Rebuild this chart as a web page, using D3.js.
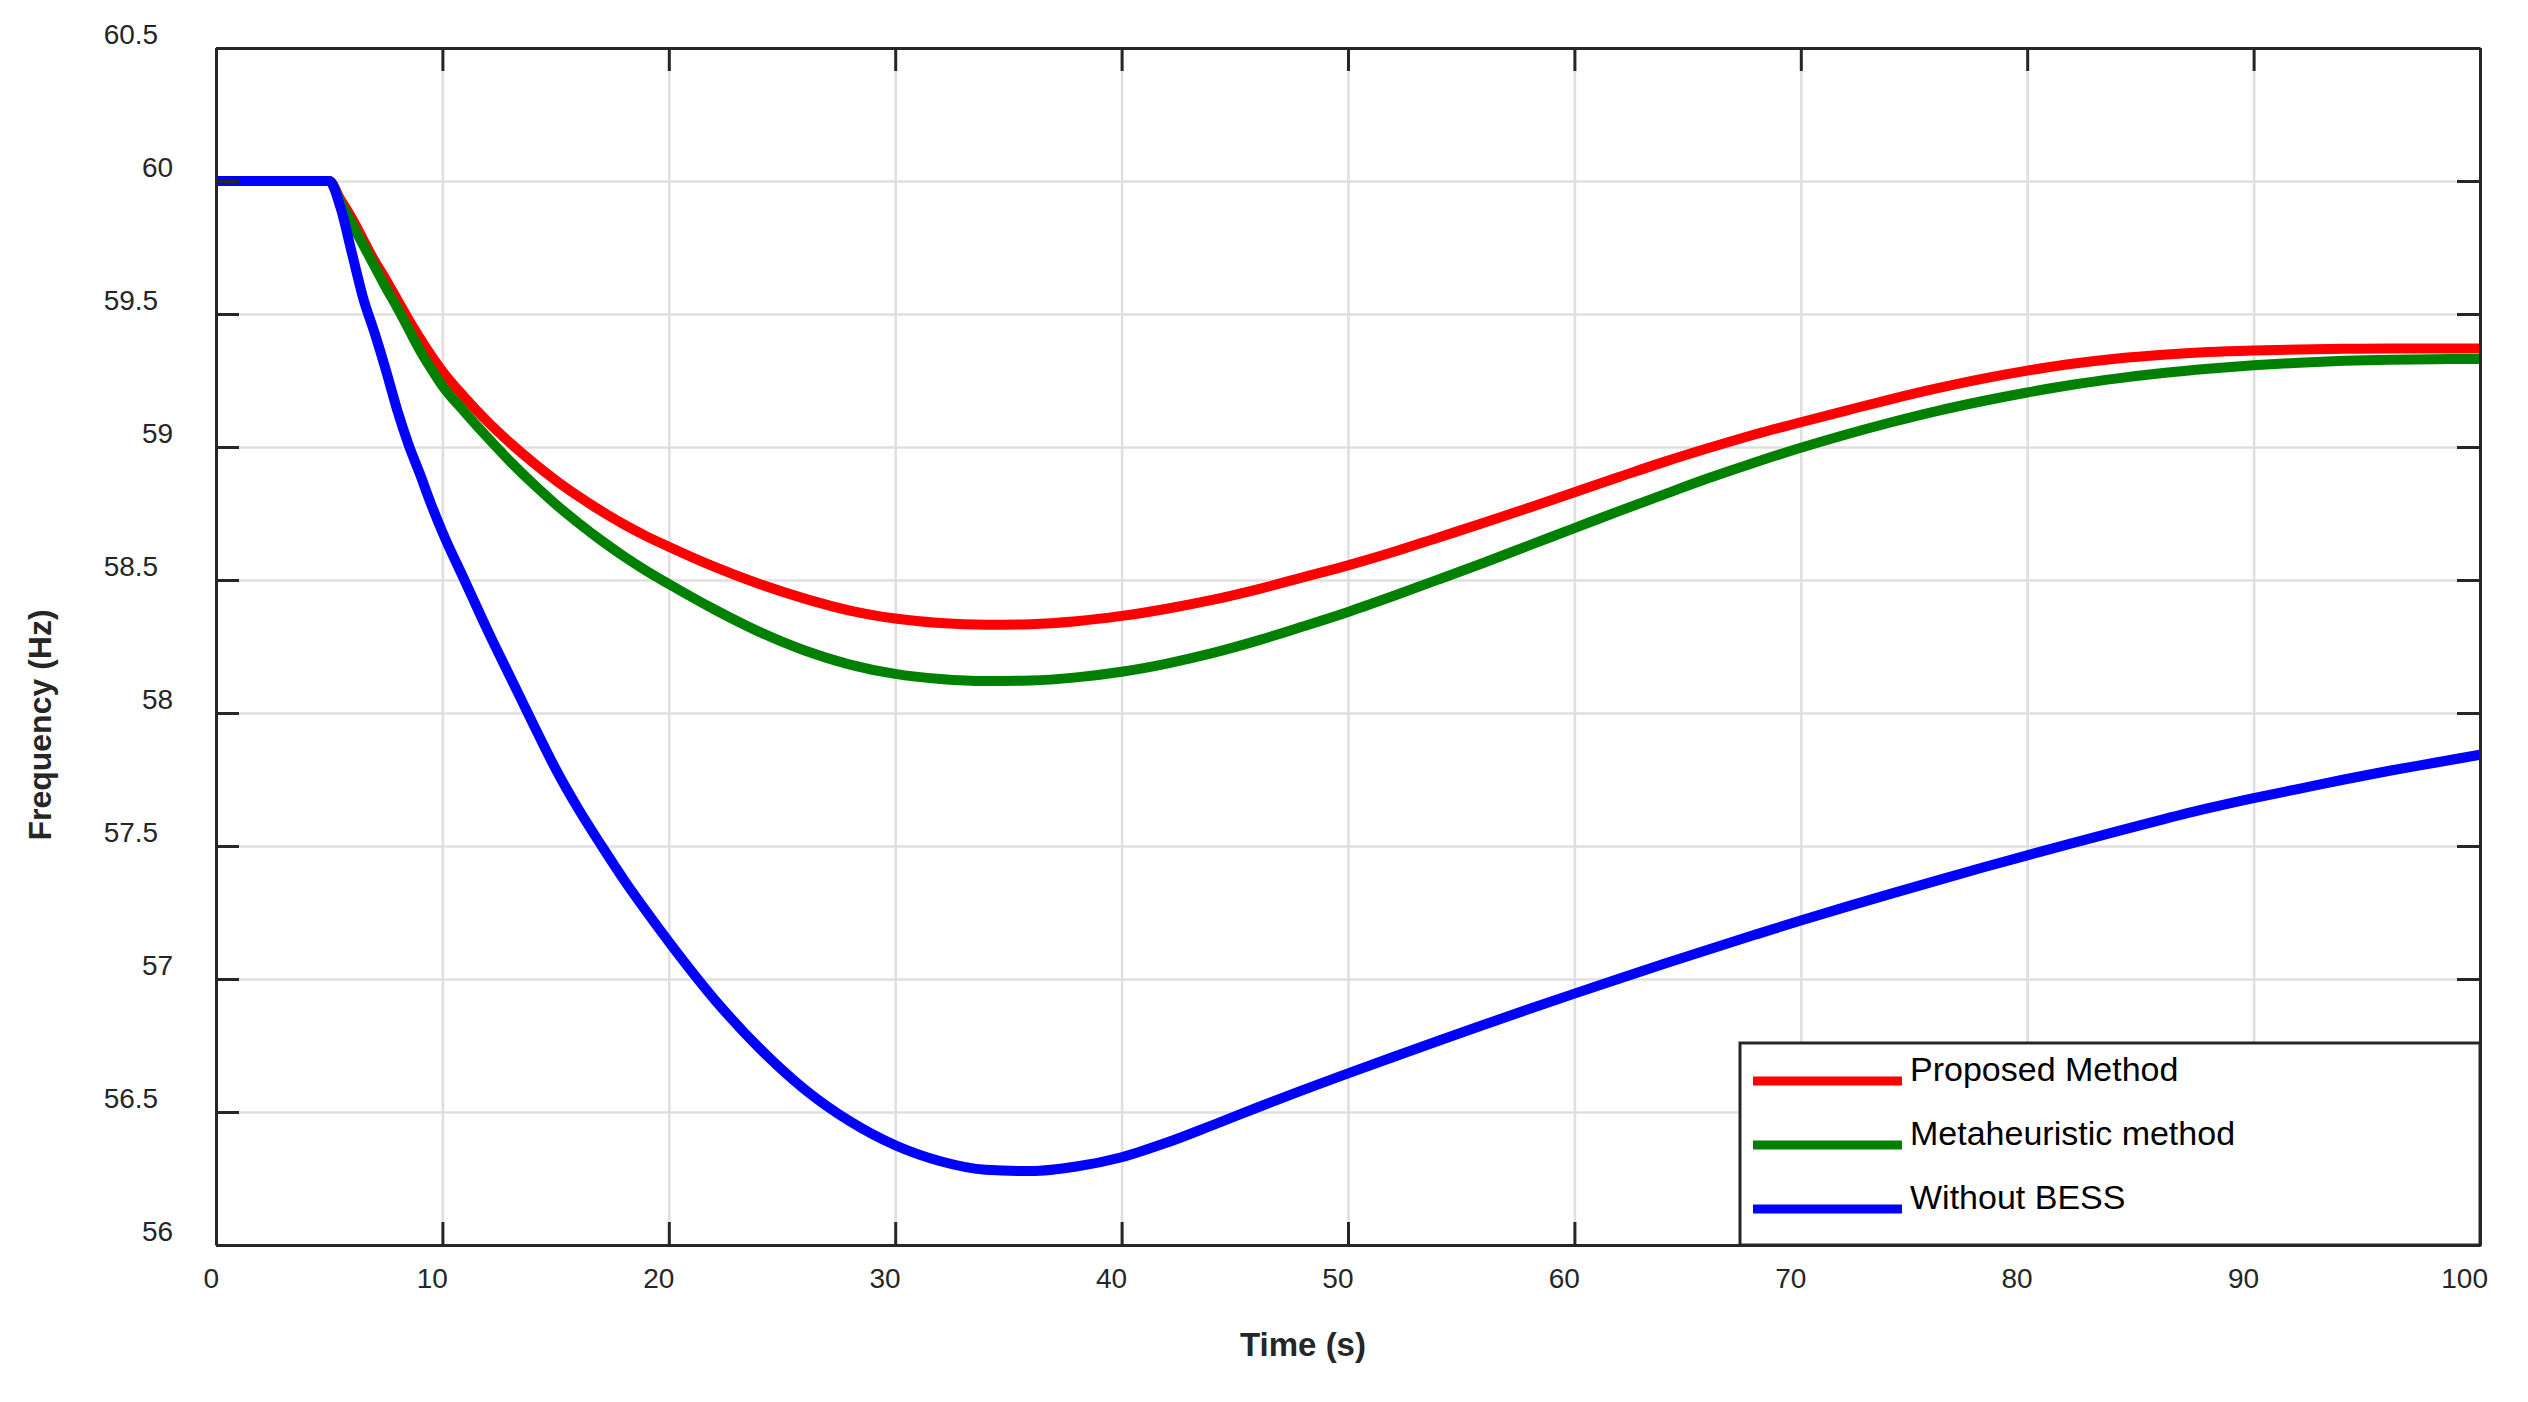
<!DOCTYPE html>
<html>
<head>
<meta charset="utf-8">
<script src="https://cdn.jsdelivr.net/npm/d3@7"></script>
<style>
    html, body { margin: 0; padding: 0; background: #fff; }
    svg { display: block; font-family: "Liberation Sans", Arial, Helvetica, sans-serif; }
</style>
</head>
<body>
<svg id="chart" width="2528" height="1402"></svg>
<script>
// time samples (s)
var time = [0, 5, 5.5, 6, 6.5, 7, 7.5, 8, 8.5, 9, 9.5, 10, 11, 12, 13, 14, 15, 16, 17, 18, 19, 20,
    22, 24, 26, 28, 30, 32, 34, 36, 38, 40, 42, 44, 46, 48, 50, 52, 54, 56, 58, 60,
    62, 64, 66, 68, 70, 72, 74, 76, 78, 80, 82, 84, 86, 88, 90, 92, 94, 96, 98, 100];

var proposed = [60, 60, 59.93, 59.86, 59.78, 59.70, 59.63, 59.555, 59.48, 59.41, 59.345, 59.285, 59.185, 59.095, 59.015, 58.942, 58.875, 58.815, 58.76, 58.71, 58.665, 58.625,
    58.55, 58.485, 58.43, 58.385, 58.355, 58.338, 58.332, 58.334, 58.345, 58.365, 58.392, 58.425, 58.465, 58.51, 58.555, 58.605, 58.66, 58.715, 58.772, 58.83,
    58.888, 58.945, 58.998, 59.048, 59.093, 59.137, 59.18, 59.22, 59.256, 59.287, 59.313, 59.333, 59.347, 59.357, 59.363, 59.367, 59.369, 59.37, 59.37, 59.37];

var metaheuristic = [60, 60, 59.92, 59.84, 59.76, 59.68, 59.60, 59.525, 59.445, 59.365, 59.295, 59.23, 59.13, 59.035, 58.945, 58.862, 58.785, 58.715, 58.65, 58.59, 58.535, 58.485,
    58.39, 58.305, 58.235, 58.182, 58.147, 58.128, 58.12, 58.122, 58.134, 58.155, 58.186, 58.225, 58.272, 58.325, 58.38, 58.44, 58.502, 58.565, 58.63, 58.695,
    58.76, 58.823, 58.885, 58.943, 58.997, 59.047, 59.093, 59.135, 59.172, 59.205, 59.234, 59.258, 59.278, 59.294, 59.307, 59.317, 59.324, 59.328, 59.33, 59.331];

var withoutBess = [60, 60, 59.90, 59.73, 59.56, 59.43, 59.29, 59.14, 59.01, 58.90, 58.785, 58.68, 58.495, 58.31, 58.135, 57.96, 57.79, 57.64, 57.505, 57.375, 57.255, 57.14,
    56.925, 56.74, 56.585, 56.465, 56.375, 56.315, 56.283, 56.278, 56.295, 56.33, 56.385, 56.45, 56.517, 56.582, 56.645, 56.707, 56.768, 56.828, 56.887, 56.945,
    57.002, 57.058, 57.113, 57.167, 57.22, 57.271, 57.321, 57.37, 57.418, 57.465, 57.511, 57.556, 57.6, 57.642, 57.68, 57.715, 57.75, 57.783, 57.813, 57.843];

var seriesNames = ['Proposed Method', 'Metaheuristic method', 'Without BESS'];
var seriesColors = ['#ff0000', '#008000', '#0000ff'];

var xTicks = [0, 10, 20, 30, 40, 50, 60, 70, 80, 90, 100];
var yTicks = [56, 56.5, 57, 57.5, 58, 58.5, 59, 59.5, 60, 60.5];

var axisColor = '#262626';
var plot = { left: 216, right: 2480, top: 48, bottom: 1245 };

var svg = d3.select('#chart');

var x = d3.scaleLinear().domain([0, 100]).range([plot.left, plot.right]);
var y = d3.scaleLinear().domain([56, 60.5]).range([plot.bottom, plot.top]);

// grid
var grid = svg.append('g').attr('class', 'grid');
grid.append('g')
    .attr('transform', 'translate(0,' + plot.bottom + ')')
    .call(d3.axisBottom(x).tickValues(xTicks).tickSize(-(plot.bottom - plot.top)).tickFormat(''));
grid.append('g')
    .attr('transform', 'translate(' + plot.left + ',0)')
    .call(d3.axisLeft(y).tickValues(yTicks).tickSize(-(plot.right - plot.left)).tickFormat(''));
grid.selectAll('.domain').remove();
grid.selectAll('line').attr('stroke', '#dfdfdf').attr('stroke-width', 2.6);

// series
var series = [proposed, metaheuristic, withoutBess];
var line = d3.line()
    .x(function(d, i) { return x(time[i]); })
    .y(function(d) { return y(d); })
    .curve(d3.curveMonotoneX);

svg.append('g').attr('class', 'lines')
    .selectAll('path')
    .data(series)
    .enter().append('path')
        .attr('d', line)
        .attr('fill', 'none')
        .attr('stroke', function(d, i) { return seriesColors[i]; })
        .attr('stroke-width', 10)
        .attr('stroke-linejoin', 'round');

// axes (box with inward ticks)
var tickLen = 23;
var axes = svg.append('g').attr('class', 'axes');

var xAxis = axes.append('g')
    .attr('transform', 'translate(0,' + plot.bottom + ')')
    .call(d3.axisBottom(x).tickValues(xTicks).tickSizeInner(-tickLen).tickSizeOuter(0).tickPadding(23));

var yAxis = axes.append('g')
    .attr('transform', 'translate(' + plot.left + ',0)')
    .call(d3.axisLeft(y).tickValues(yTicks).tickSizeInner(-tickLen).tickSizeOuter(0).tickPadding(43)
        .tickFormat(function(d) { return String(d); }));

axes.append('g')
    .attr('transform', 'translate(0,' + plot.top + ')')
    .call(d3.axisTop(x).tickValues(xTicks).tickSizeInner(-tickLen).tickSizeOuter(0).tickFormat(''));
axes.append('g')
    .attr('transform', 'translate(' + plot.right + ',0)')
    .call(d3.axisRight(y).tickValues(yTicks).tickSizeInner(-tickLen).tickSizeOuter(0).tickFormat(''));

axes.selectAll('.domain').attr('stroke', axisColor).attr('stroke-width', 3);
axes.selectAll('.tick line').attr('stroke', axisColor).attr('stroke-width', 3);
axes.selectAll('g').attr('font-family', null).attr('font-size', null);
axes.selectAll('.tick text')
    .attr('fill', axisColor)
    .style('font-size', '28px')
    .style('font-family', '"Liberation Sans", Arial, Helvetica, sans-serif');

// the exported figure places labels as if glyphs were wider, so labels drift by width
xAxis.selectAll('.tick text')
    .attr('text-anchor', 'start')
    .attr('x', function() { return -0.84 * this.getComputedTextLength(); });
yAxis.selectAll('.tick text')
    .attr('text-anchor', 'start')
    .attr('y', -13)
    .attr('x', function() { return -23 - 1.64 * this.getComputedTextLength(); });

// axis titles
svg.append('text')
    .attr('transform', 'translate(51,725) rotate(-90)')
    .attr('text-anchor', 'middle')
    .attr('fill', axisColor)
    .style('font-size', '32px')
    .style('font-weight', 'bold')
    .text('Frequency (Hz)');

svg.append('text')
    .attr('x', 1303)
    .attr('y', 1356)
    .attr('text-anchor', 'middle')
    .attr('fill', axisColor)
    .style('font-size', '33px')
    .style('font-weight', 'bold')
    .text('Time (s)');

// legend
var legendLeft = 1740;
var legend = svg.append('g').attr('class', 'legend');
legend.append('rect')
    .attr('x', legendLeft)
    .attr('y', 1043)
    .attr('width', plot.right - legendLeft)
    .attr('height', plot.bottom - 1043)
    .attr('fill', '#fff')
    .attr('stroke', axisColor)
    .attr('stroke-width', 3);

var rows = legend.selectAll('g.row')
    .data(seriesNames)
    .enter().append('g')
        .attr('class', 'row')
        .attr('transform', function(d, i) { return 'translate(0,' + (1081 + i * 64) + ')'; });

rows.append('line')
    .attr('x1', 1753)
    .attr('x2', 1902)
    .attr('stroke', function(d, i) { return seriesColors[i]; })
    .attr('stroke-width', 9);

rows.append('text')
    .attr('x', 1910)
    .attr('y', 0)
    .attr('fill', '#000')
    .style('font-size', '34px')
    .text(function(d) { return d; });
</script>
</body>
</html>
